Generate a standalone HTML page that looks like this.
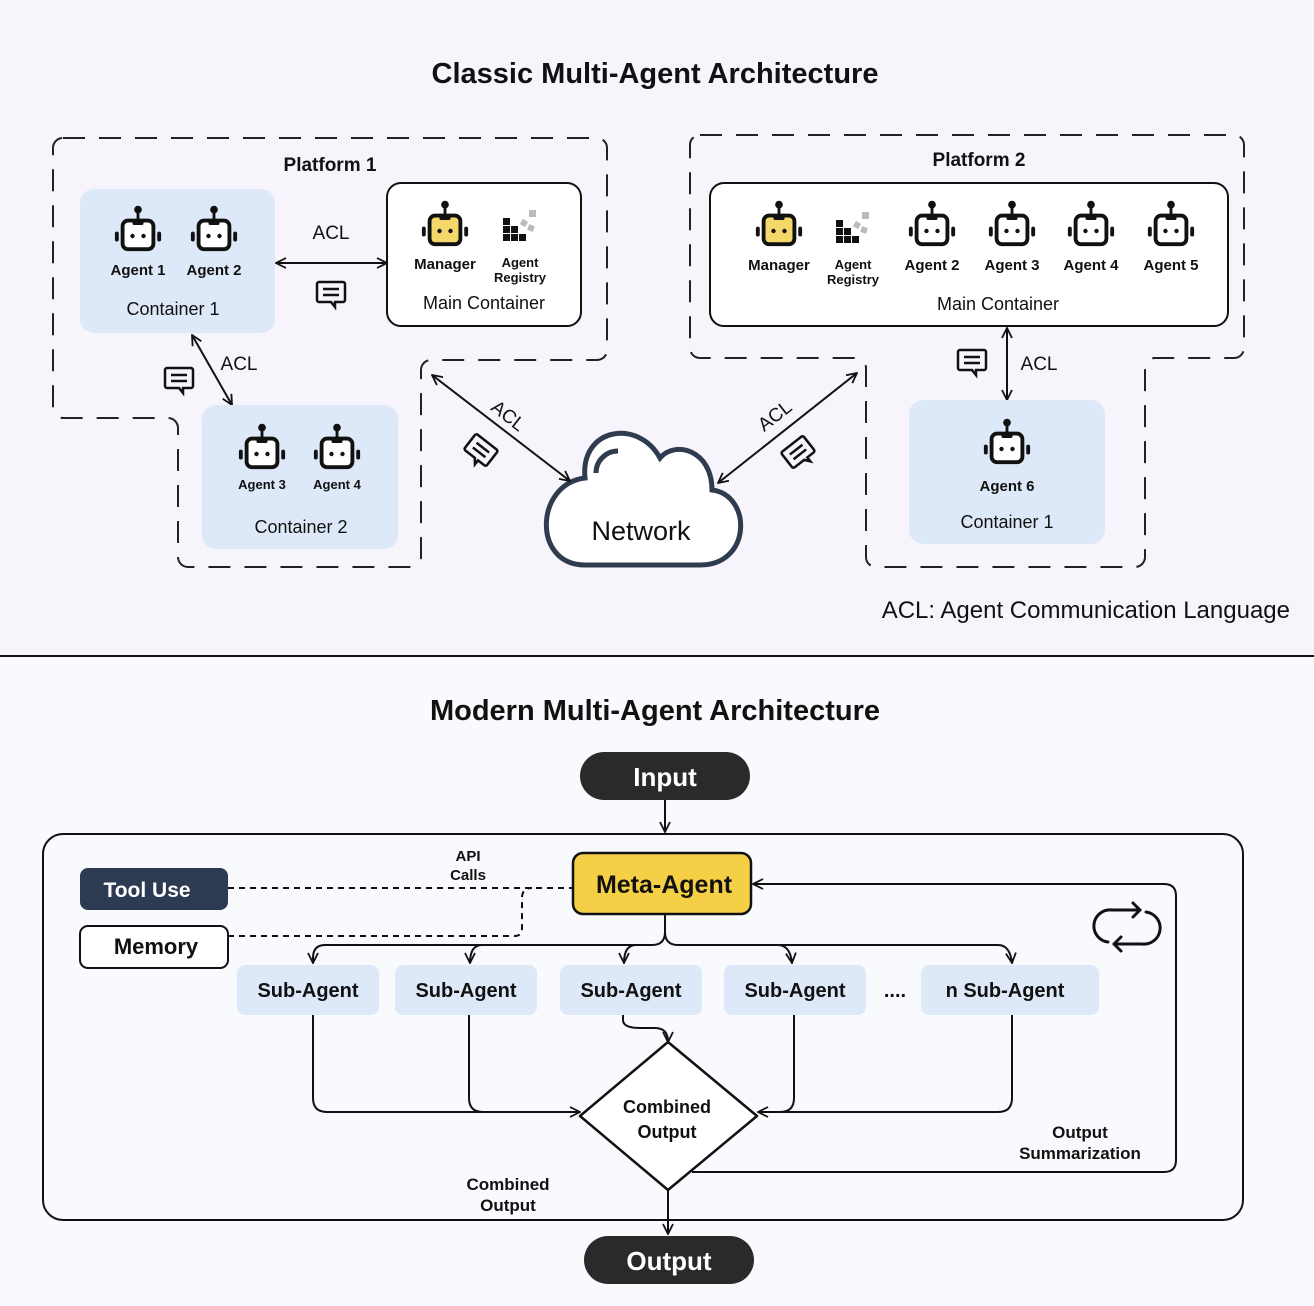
<!DOCTYPE html>
<html><head><meta charset="utf-8"><style>
html,body{margin:0;padding:0;}
body{width:1314px;height:1306px;overflow:hidden;background:#f8fafd;}
svg{display:block;font-family:"Liberation Sans",sans-serif;}
</style></head><body>
<svg width="1314" height="1306" viewBox="0 0 1314 1306" xmlns="http://www.w3.org/2000/svg">
<defs>
<g id="bot0">
  <circle cx="0" cy="-24" r="3.5" fill="#111"/>
  <rect x="-1.3" y="-24" width="2.6" height="9" fill="#111"/>
  <rect x="-14" y="-14" width="28" height="26" rx="5" fill="var(--f,#fff)" stroke="#111" stroke-width="3.5"/>
  <rect x="-5" y="-14" width="10" height="4" rx="1.5" fill="#111"/>
  <circle cx="-5" cy="0" r="2" fill="#111"/><circle cx="5" cy="0" r="2" fill="#111"/>
  <rect x="-21" y="-4" width="3.5" height="9" rx="1.7" fill="#111"/>
  <rect x="17.5" y="-4" width="3.5" height="9" rx="1.7" fill="#111"/>
</g>
<g id="bot"><use href="#bot0" transform="scale(1.1)"/></g>
<g id="reg">
  <rect x="-17" y="-12" width="7" height="7" fill="#111"/>
  <rect x="-17" y="-4" width="7" height="7" fill="#111"/><rect x="-9" y="-4" width="7" height="7" fill="#111"/>
  <rect x="-17" y="4" width="7" height="7" fill="#111"/><rect x="-9" y="4" width="7" height="7" fill="#111"/><rect x="-1" y="4" width="7" height="7" fill="#111"/>
  <rect x="1" y="-10" width="6" height="6" fill="#bbb" transform="rotate(30 4 -7)"/>
  <rect x="9" y="-20" width="7" height="7" fill="#bbb"/>
  <rect x="8" y="-5" width="6" height="6" fill="#bbb" transform="rotate(20 11 -2)"/>
</g>
<g id="msg">
  <path d="M-12,-10 H12 a2,2 0 0 1 2,2 V8 a2,2 0 0 1 -2,2 H4 V15 L0,10 H-12 a2,2 0 0 1 -2,-2 V-8 a2,2 0 0 1 2,-2Z" fill="none" stroke="#111" stroke-width="2.5"/>
  <line x1="-8" y1="-3" x2="8" y2="-3" stroke="#111" stroke-width="2.5"/>
  <line x1="-8" y1="3" x2="8" y2="3" stroke="#111" stroke-width="2.5"/>
</g>
<marker id="ar" viewBox="0 0 12 12" refX="11" refY="6" markerWidth="12" markerHeight="12" markerUnits="userSpaceOnUse" orient="auto-start-reverse">
  <path d="M1,1 L11,6 L1,11" fill="none" stroke="#111" stroke-width="1.8"/>
</marker>
</defs>

<rect x="0" y="0" width="1314" height="656" fill="#f7f5fb"/>
<line x1="0" y1="656" x2="1314" y2="656" stroke="#111" stroke-width="2"/>

<text x="655" y="83" text-anchor="middle" font-size="29" font-weight="bold" fill="#111">Classic Multi-Agent Architecture</text>

<path d="M63,138 H597 a10,10 0 0 1 10,10 V350 a10,10 0 0 1 -10,10 H431 a10,10 0 0 0 -10,10 V557 a10,10 0 0 1 -10,10 H188 a10,10 0 0 1 -10,-10 V428 a10,10 0 0 0 -10,-10 H63 a10,10 0 0 1 -10,-10 V148 a10,10 0 0 1 10,-10Z" fill="none" stroke="#222" stroke-width="2" stroke-dasharray="22,14"/>
<path d="M700,135 H1234 a10,10 0 0 1 10,10 V348 a10,10 0 0 1 -10,10 H1155 a10,10 0 0 0 -10,10 V557 a10,10 0 0 1 -10,10 H876 a10,10 0 0 1 -10,-10 V368 a10,10 0 0 0 -10,-10 H700 a10,10 0 0 1 -10,-10 V145 a10,10 0 0 1 10,-10Z" fill="none" stroke="#222" stroke-width="2" stroke-dasharray="22,14"/>

<text x="330" y="171" text-anchor="middle" font-size="19" font-weight="bold" fill="#111">Platform 1</text>
<text x="979" y="166" text-anchor="middle" font-size="19" font-weight="bold" fill="#111">Platform 2</text>

<rect x="80" y="189" width="195" height="144" rx="14" fill="#dde9f9"/>
<use href="#bot" x="138" y="236"/><use href="#bot" x="214" y="236"/>
<text x="138" y="275" text-anchor="middle" font-size="15" font-weight="bold" fill="#111">Agent 1</text>
<text x="214" y="275" text-anchor="middle" font-size="15" font-weight="bold" fill="#111">Agent 2</text>
<text x="173" y="315" text-anchor="middle" font-size="18" fill="#111">Container 1</text>

<rect x="387" y="183" width="194" height="143" rx="14" fill="#fff" stroke="#111" stroke-width="2"/>
<use href="#bot" x="445" y="231" style="--f:#f5d86a"/>
<use href="#reg" x="520" y="230"/>
<text x="445" y="269" text-anchor="middle" font-size="15" font-weight="bold" fill="#111">Manager</text>
<text x="520" y="267" text-anchor="middle" font-size="13" font-weight="bold" fill="#111">Agent</text>
<text x="520" y="282" text-anchor="middle" font-size="13" font-weight="bold" fill="#111">Registry</text>
<text x="484" y="309" text-anchor="middle" font-size="18" fill="#111">Main Container</text>

<line x1="276" y1="263" x2="387" y2="263" stroke="#111" stroke-width="2" marker-start="url(#ar)" marker-end="url(#ar)"/>
<text x="331" y="239" text-anchor="middle" font-size="19" fill="#111">ACL</text>
<use href="#msg" x="331" y="292"/>

<line x1="192" y1="335" x2="232" y2="405" stroke="#111" stroke-width="2" marker-start="url(#ar)" marker-end="url(#ar)"/>
<text x="239" y="370" text-anchor="middle" font-size="19" fill="#111">ACL</text>
<use href="#msg" x="179" y="378"/>

<rect x="202" y="405" width="196" height="144" rx="14" fill="#dde9f9"/>
<use href="#bot" x="262" y="454"/><use href="#bot" x="337" y="454"/>
<text x="262" y="489" text-anchor="middle" font-size="13" font-weight="bold" fill="#111">Agent 3</text>
<text x="337" y="489" text-anchor="middle" font-size="13" font-weight="bold" fill="#111">Agent 4</text>
<text x="301" y="533" text-anchor="middle" font-size="18" fill="#111">Container 2</text>

<rect x="710" y="183" width="518" height="143" rx="14" fill="#fff" stroke="#111" stroke-width="2"/>
<use href="#bot" x="779" y="231" style="--f:#f5d86a"/>
<use href="#reg" x="853" y="232"/>
<use href="#bot" x="932" y="231"/><use href="#bot" x="1012" y="231"/><use href="#bot" x="1091" y="231"/><use href="#bot" x="1171" y="231"/>
<text x="779" y="270" text-anchor="middle" font-size="15" font-weight="bold" fill="#111">Manager</text>
<text x="853" y="269" text-anchor="middle" font-size="13" font-weight="bold" fill="#111">Agent</text>
<text x="853" y="284" text-anchor="middle" font-size="13" font-weight="bold" fill="#111">Registry</text>
<text x="932" y="270" text-anchor="middle" font-size="15" font-weight="bold" fill="#111">Agent 2</text>
<text x="1012" y="270" text-anchor="middle" font-size="15" font-weight="bold" fill="#111">Agent 3</text>
<text x="1091" y="270" text-anchor="middle" font-size="15" font-weight="bold" fill="#111">Agent 4</text>
<text x="1171" y="270" text-anchor="middle" font-size="15" font-weight="bold" fill="#111">Agent 5</text>
<text x="998" y="310" text-anchor="middle" font-size="18" fill="#111">Main Container</text>

<line x1="1007" y1="328" x2="1007" y2="400" stroke="#111" stroke-width="2" marker-start="url(#ar)" marker-end="url(#ar)"/>
<text x="1039" y="370" text-anchor="middle" font-size="19" fill="#111">ACL</text>
<use href="#msg" x="972" y="360"/>

<rect x="909" y="400" width="196" height="144" rx="14" fill="#dde9f9"/>
<use href="#bot" x="1007" y="449"/>
<text x="1007" y="491" text-anchor="middle" font-size="15" font-weight="bold" fill="#111">Agent 6</text>
<text x="1007" y="528" text-anchor="middle" font-size="18" fill="#111">Container 1</text>

<path d="M585,565 H700 C752,565 752,495 712,490 C712,450 675,440 660,458 C638,418 580,428 585,478 C535,484 532,565 585,565Z" fill="#fff" stroke="#2f3b4f" stroke-width="5"/>
<path d="M596,473 a22,22 0 0 1 22,-22" fill="none" stroke="#2f3b4f" stroke-width="5"/>
<text x="641" y="540" text-anchor="middle" font-size="27" fill="#111">Network</text>
<line x1="432" y1="375" x2="570" y2="481" stroke="#111" stroke-width="2" marker-start="url(#ar)" marker-end="url(#ar)"/>
<line x1="857" y1="373" x2="718" y2="483" stroke="#111" stroke-width="2" marker-start="url(#ar)" marker-end="url(#ar)"/>
<text x="508" y="422" text-anchor="middle" font-size="19" fill="#111" transform="rotate(38 508 416)">ACL</text>
<text x="775" y="422" text-anchor="middle" font-size="19" fill="#111" transform="rotate(-38 775 416)">ACL</text>
<use href="#msg" transform="translate(481,450) rotate(38)"/>
<use href="#msg" transform="translate(798,452) rotate(-38)"/>

<text x="1290" y="618" text-anchor="end" font-size="24" fill="#111">ACL: Agent Communication Language</text>

<text x="655" y="720" text-anchor="middle" font-size="29" font-weight="bold" fill="#111">Modern Multi-Agent Architecture</text>
<rect x="580" y="752" width="170" height="48" rx="24" fill="#2a2a2a"/>
<text x="665" y="786" text-anchor="middle" font-size="26" font-weight="bold" fill="#fff">Input</text>
<line x1="665" y1="800" x2="665" y2="832" stroke="#111" stroke-width="2" marker-end="url(#ar)"/>

<rect x="43" y="834" width="1200" height="386" rx="20" fill="#f8fafd" stroke="#111" stroke-width="2"/>

<rect x="80" y="868" width="148" height="42" rx="8" fill="#2c3a52"/>
<text x="147" y="897" text-anchor="middle" font-size="21" font-weight="bold" fill="#fff">Tool Use</text>
<rect x="80" y="926" width="148" height="42" rx="8" fill="#fff" stroke="#111" stroke-width="2"/>
<text x="156" y="954" text-anchor="middle" font-size="22" font-weight="bold" fill="#111">Memory</text>
<path d="M228,888 H573" fill="none" stroke="#111" stroke-width="2" stroke-dasharray="6,5"/>
<path d="M228,936 H515 Q522,936 522,928 V898 Q522,888 532,888" fill="none" stroke="#111" stroke-width="2" stroke-dasharray="6,5"/>
<text x="468" y="861" text-anchor="middle" font-size="15" font-weight="bold" fill="#111">API</text>
<text x="468" y="880" text-anchor="middle" font-size="15" font-weight="bold" fill="#111">Calls</text>

<rect x="573" y="853" width="178" height="61" rx="10" fill="#f5cf45" stroke="#111" stroke-width="2.5"/>
<text x="664" y="893" text-anchor="middle" font-size="25" font-weight="bold" fill="#111">Meta-Agent</text>

<path d="M665,914 V932 Q665,945 652,945 H325 Q313,945 313,958 V963" fill="none" stroke="#111" stroke-width="2" marker-end="url(#ar)"/>
<path d="M665,932 Q665,945 678,945 H998 Q1010,945 1012,963" fill="none" stroke="#111" stroke-width="2" marker-end="url(#ar)"/>
<path d="M482,945 Q470,945 470,963" fill="none" stroke="#111" stroke-width="2" marker-end="url(#ar)"/>
<path d="M636,945 Q624,945 624,963" fill="none" stroke="#111" stroke-width="2" marker-end="url(#ar)"/>
<path d="M778,945 Q790,945 792,963" fill="none" stroke="#111" stroke-width="2" marker-end="url(#ar)"/>

<g font-size="20" font-weight="bold" fill="#111" text-anchor="middle">
<rect x="237" y="965" width="142" height="50" rx="8" fill="#dde9f9"/><text x="308" y="997">Sub-Agent</text>
<rect x="395" y="965" width="142" height="50" rx="8" fill="#dde9f9"/><text x="466" y="997">Sub-Agent</text>
<rect x="560" y="965" width="142" height="50" rx="8" fill="#dde9f9"/><text x="631" y="997">Sub-Agent</text>
<rect x="724" y="965" width="142" height="50" rx="8" fill="#dde9f9"/><text x="795" y="997">Sub-Agent</text>
<rect x="921" y="965" width="178" height="50" rx="8" fill="#dde9f9"/><text x="1005" y="997">n Sub-Agent</text>
<text x="895" y="997">....</text>
</g>

<path d="M313,1015 V1098 Q313,1112 327,1112 H580" fill="none" stroke="#111" stroke-width="2" marker-end="url(#ar)"/>
<path d="M469,1015 V1098 Q469,1112 483,1112" fill="none" stroke="#111" stroke-width="2"/>
<path d="M1012,1015 V1098 Q1012,1112 998,1112 H758" fill="none" stroke="#111" stroke-width="2" marker-end="url(#ar)"/>
<path d="M794,1015 V1098 Q794,1112 780,1112" fill="none" stroke="#111" stroke-width="2"/>
<path d="M623,1015 V1020 Q623,1028 640,1028 H655 Q668,1028 668,1042" fill="none" stroke="#111" stroke-width="2" marker-end="url(#ar)"/>

<path d="M668,1042 L757,1116 L668,1190 L580,1116Z" fill="#fff" stroke="#111" stroke-width="2.5" stroke-linejoin="round"/>
<text x="667" y="1113" text-anchor="middle" font-size="18" font-weight="bold" fill="#111">Combined</text>
<text x="667" y="1138" text-anchor="middle" font-size="18" font-weight="bold" fill="#111">Output</text>

<line x1="668" y1="1190" x2="668" y2="1234" stroke="#111" stroke-width="2" marker-end="url(#ar)"/>
<text x="508" y="1190" text-anchor="middle" font-size="17" font-weight="bold" fill="#111">Combined</text>
<text x="508" y="1211" text-anchor="middle" font-size="17" font-weight="bold" fill="#111">Output</text>

<path d="M692,1172 H1164 Q1176,1172 1176,1160 V896 Q1176,884 1164,884 H753" fill="none" stroke="#111" stroke-width="2" marker-end="url(#ar)"/>
<text x="1080" y="1138" text-anchor="middle" font-size="17" font-weight="bold" fill="#111">Output</text>
<text x="1080" y="1159" text-anchor="middle" font-size="17" font-weight="bold" fill="#111">Summarization</text>

<g fill="none" stroke="#111" stroke-width="3" stroke-linecap="round" stroke-linejoin="round">
<path d="M1108,942 A16,16 0 0 1 1112,910 H1140"/>
<path d="M1133,903 L1140,910 L1133,917"/>
<path d="M1146,912 A16,16 0 0 1 1142,944 H1114"/>
<path d="M1121,937 L1114,944 L1121,951"/>
</g>

<rect x="584" y="1236" width="170" height="48" rx="24" fill="#2a2a2a"/>
<text x="669" y="1270" text-anchor="middle" font-size="26" font-weight="bold" fill="#fff">Output</text>
</svg>
</body></html>
